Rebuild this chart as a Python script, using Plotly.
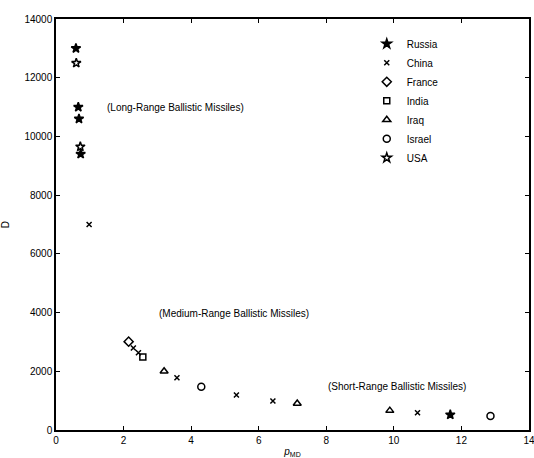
import plotly.graph_objects as go

# Data (p_MD, D)
russia_p = [0.59, 0.66, 0.68, 0.73, 11.67]
russia_d = [13000, 11000, 10600, 9400, 520]
china_p = [0.98, 2.29, 2.44, 3.58, 5.34, 6.42, 10.7]
china_d = [7000, 2790, 2630, 1780, 1190, 990, 590]
france_p = [2.15]
france_d = [3010]
india_p = [2.57]
india_d = [2490]
iraq_p = [3.2, 7.14, 9.88]
iraq_d = [2000, 900, 660]
israel_p = [4.3, 12.86]
israel_d = [1475, 480]
usa_p = [0.6, 0.72]
usa_d = [12500, 9650]

x_ticks = [0, 2, 4, 6, 8, 10, 12, 14]
y_ticks = [0, 2000, 4000, 6000, 8000, 10000, 12000, 14000]

series = [
    ("Russia", russia_p, russia_d, "star", 7),
    ("China", china_p, china_d, "x-thin-open", 5),
    ("France", france_p, france_d, "diamond-open", 7),
    ("India", india_p, india_d, "square-open", 6),
    ("Iraq", iraq_p, iraq_d, "triangle-up-open", 7),
    ("Israel", israel_p, israel_d, "circle-open", 7),
    ("USA", usa_p, usa_d, "star-open", 7),
]

fig = go.Figure()
for name, xs, ys, sym, sz in series:
    fig.add_trace(go.Scatter(
        x=xs, y=ys, mode="markers", name=name,
        marker=dict(symbol=sym, size=sz, color="black",
                    line=dict(color="black", width=1.5)),
    ))

font = "Liberation Sans, Arial, sans-serif"

for xa, ya, txt in [(1.45, 10970, "(Long-Range Ballistic Missiles)"),
                    (3.0, 3985, "(Medium-Range Ballistic Missiles)"),
                    (7.98, 1465, "(Short-Range Ballistic Missiles)")]:
    fig.add_annotation(x=xa, y=ya, xref="x", yref="y", text=txt,
                       showarrow=False, xanchor="left", yanchor="middle",
                       font=dict(size=10, color="black", family=font))

axis_common = dict(showgrid=False, zeroline=False, showline=True, linecolor="black",
                   linewidth=1.5, mirror="ticks", ticks="inside", ticklen=4,
                   tickcolor="black", automargin=False, ticklabeloverflow="allow",
                   tickfont=dict(size=10, color="black", family=font))

fig.update_layout(
    width=534, height=458,
    margin=dict(l=56, r=5, t=19, b=28),
    paper_bgcolor="white", plot_bgcolor="white",
    font=dict(family=font, size=10, color="black"),
    showlegend=True,
    legend=dict(x=0.657, y=0.975, xanchor="left", yanchor="top",
                bgcolor="rgba(0,0,0,0)", font=dict(size=10, family=font),
                itemwidth=30, tracegroupgap=0),
    xaxis=dict(range=[0, 14], tickvals=x_ticks, ticktext=[str(v) for v in x_ticks],
               title=dict(text="<i>p</i><sub>MD</sub>", font=dict(size=10)),
               **axis_common),
    yaxis=dict(range=[0, 14000], tickvals=y_ticks, ticktext=[str(v) for v in y_ticks],
               title=dict(text="D", font=dict(size=10)),
               **axis_common),
)

fig.write_html("out.html")
